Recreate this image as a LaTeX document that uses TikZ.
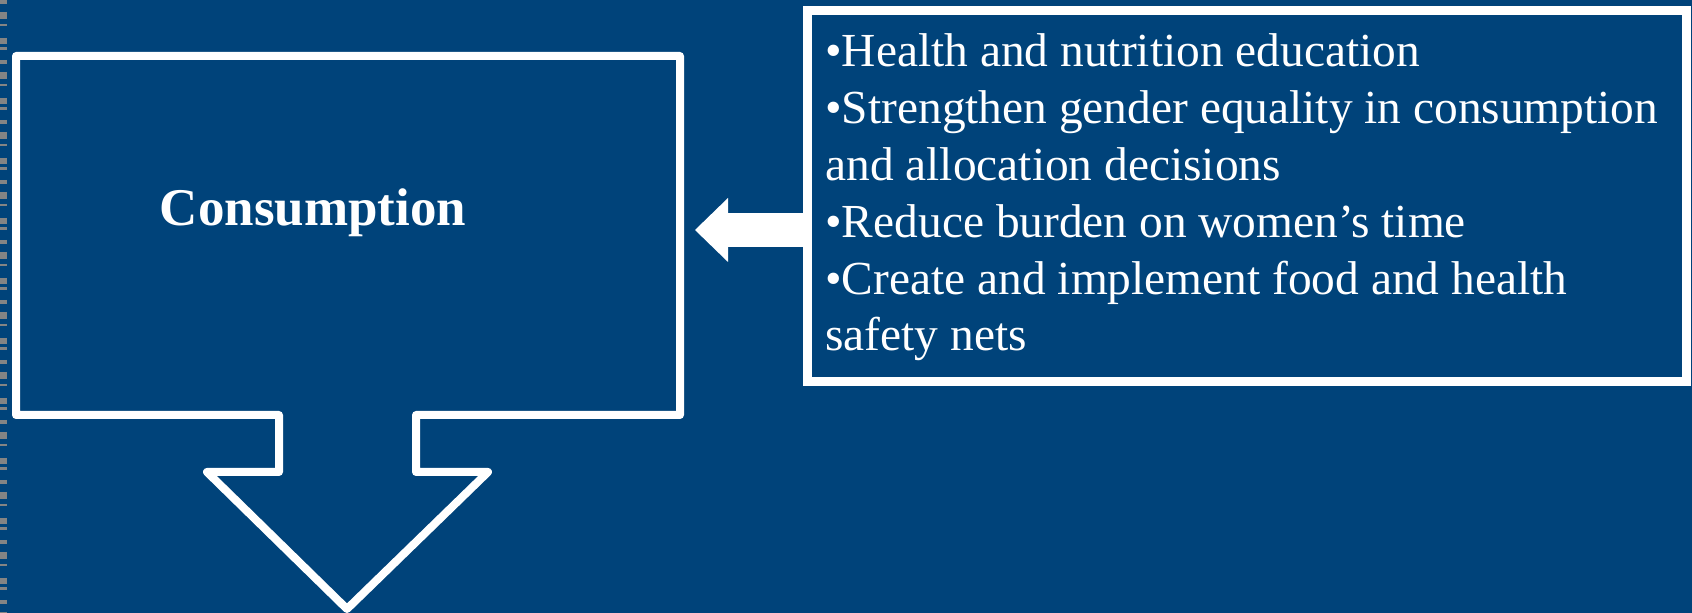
\documentclass[tikz,border=0pt]{standalone}
\usepackage{fontspec}
\setmainfont{Liberation Serif}
\usepackage{xcolor}
\usetikzlibrary{arrows.meta, positioning}
\definecolor{slideblue}{RGB}{0,67,122}
\definecolor{edgegray}{RGB}{132,132,132}

\begin{document}
\begin{tikzpicture}[x=0.5pt, y=-0.5pt,
    outline/.style={draw=white, line width=4pt, line join=round},
    panel/.style={draw=white, line width=4.5pt, inner sep=0pt, anchor=north west},
    bigarrow/.style={white, line width=17pt, -{Triangle[width=32pt, length=16.5pt, line width=0pt]}},
    label/.style={text=white, inner sep=0pt},
    ]
    \fill[slideblue] (0,0) rectangle (1692,613);
    \useasboundingbox (0,0) rectangle (1692,613);
    \draw[edgegray, line width=3.5pt, dash pattern=on 2pt off 4pt on 3.5pt off 2.5pt on 1pt off 6pt on 3pt off 1.5pt on 1.5pt off 5pt] (3.5,0) -- (3.5,613);

    \coordinate (boxnw) at (16,56);
    \coordinate (boxse) at (680,415);
    \draw[outline] (boxnw) -- (boxse |- boxnw) -- (boxse) -- (416,415) -- (416,472) -- (488,472)
        -- (347,609) -- (207,472) -- (279,472) -- (279,415) -- (boxnw |- boxse) -- cycle;
    \node[label, font=\bfseries\fontsize{26.5}{30}\selectfont] (consumption) at (313,213) {Consumption};

    \node[panel, minimum width=439.5pt, minimum height=185.5pt] (measures) at (802.5,6.5) {};
    \node[label, anchor=base west, align=left, font=\fontsize{23.7}{28.4}\selectfont] (measurestext) at (825,351)
        {•Health and nutrition education\\
         •Strengthen gender equality in consumption\\
         and allocation decisions\\
         •Reduce burden on women’s time\\
         •Create and implement food and health\\
         safety nets};

    \coordinate (tip) at (695,230);
    \draw[bigarrow] (measures.west |- tip) -- (tip);
\end{tikzpicture}
\end{document}
